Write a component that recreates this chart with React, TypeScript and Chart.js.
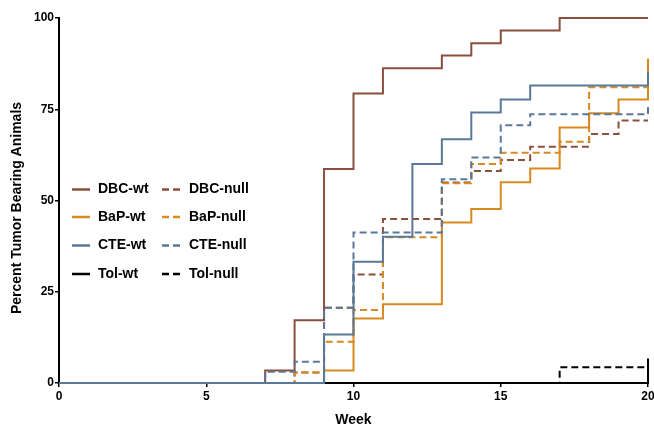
import React, { useEffect, useRef } from 'react';
import { Chart, registerables } from 'chart.js';

Chart.register(...registerables);

// Kaplan-Meier style step data: week of each step, cumulative percent after the step
const weeksDBCwt = [0, 7, 8, 9, 10, 11, 13, 14, 15, 17, 20];
const pctDBCwt = [0, 3.4, 17.2, 58.6, 79.3, 86.2, 89.7, 93.1, 96.6, 100, 100];

const weeksDBCnull = [0, 8, 9, 10, 11, 13, 14, 15, 16, 18, 19, 20];
const pctDBCnull = [0, 2.9, 20.6, 29.7, 44.9, 54.9, 58.1, 61.1, 64.7, 68.2, 71.9, 71.9];

const weeksBaPwt = [0, 9, 10, 11, 13, 14, 15, 16, 17, 18, 19, 20];
const pctBaPwt = [0, 3.4, 17.7, 21.6, 44.0, 47.7, 55.0, 58.8, 70.0, 73.9, 77.7, 88.9];

const weeksBaPnull = [0, 8, 9, 10, 11, 13, 14, 15, 17, 18, 20];
const pctBaPnull = [0, 2.9, 11.3, 20.0, 39.9, 54.7, 60.0, 63.1, 66.1, 81.0, 81.0];

const weeksCTEwt = [0, 9, 10, 11, 12, 13, 14, 15, 16, 20];
const pctCTEwt = [0, 13.3, 33.2, 40.1, 60.0, 66.8, 74.1, 77.7, 81.5, 85.3];

const weeksCTEnull = [0, 7, 8, 9, 10, 13, 14, 15, 16, 20];
const pctCTEnull = [0, 3.1, 5.8, 20.6, 41.2, 55.8, 61.8, 70.6, 73.6, 76.6];

const weeksTolwt = [0, 20];
const pctTolwt = [0, 6.7];

const weeksTolnull = [0, 17, 20];
const pctTolnull = [0, 4.3, 4.3];

const seriesLabels = ['DBC-wt', 'DBC-null', 'BaP-wt', 'BaP-null', 'CTE-wt', 'CTE-null', 'Tol-wt', 'Tol-null'];
const xTicks = [0, 5, 10, 15, 20];
const yTicks = [0, 25, 50, 75, 100];

const BROWN = '#8B4F3D';
const ORANGE = '#D8891F';
const BLUE = '#5A7898';
const BLACK = '#000000';
const FONT = '"Liberation Sans", Arial, Helvetica, sans-serif';

const toPoints = (xs: number[], ys: number[]) => xs.map((x, i) => ({ x, y: ys[i] }));

const legendPlugin = {
  id: 'kmLegend',
  afterDatasetsDraw(chart: any) {
    const ctx = chart.ctx as CanvasRenderingContext2D;
    const rowYs = [189.5, 217, 245.5, 274];
    const cols = [
      { lineStart: 72, lineEnd: 90, text: 98 },
      { lineStart: 162, lineEnd: 180, text: 189 },
    ];
    ctx.save();
    chart.data.datasets.forEach((ds: any, i: number) => {
      const col = cols[i % 2];
      const y = rowYs[Math.floor(i / 2)];
      ctx.strokeStyle = ds.borderColor;
      ctx.lineWidth = 2.5;
      ctx.setLineDash(ds.borderDash && ds.borderDash.length ? [7, 4] : []);
      ctx.beginPath();
      ctx.moveTo(col.lineStart, y);
      ctx.lineTo(col.lineEnd, y);
      ctx.stroke();
      ctx.setLineDash([]);
      ctx.fillStyle = '#000';
      ctx.font = `bold 14px ${FONT}`;
      ctx.textAlign = 'left';
      ctx.textBaseline = 'middle';
      ctx.fillText(ds.label, col.text, y);
    });
    ctx.restore();
  },
};

const yTitlePlugin = {
  id: 'yTitle',
  afterDraw(chart: any) {
    const ctx = chart.ctx as CanvasRenderingContext2D;
    ctx.save();
    ctx.translate(17, 208);
    ctx.rotate(-Math.PI / 2);
    ctx.fillStyle = '#000';
    ctx.font = `bold 14px ${FONT}`;
    ctx.textAlign = 'center';
    ctx.textBaseline = 'middle';
    ctx.fillText('Percent Tumor Bearing Animals', 0, 0);
    ctx.restore();
  },
};

export default function App() {
  const ref = useRef<HTMLCanvasElement>(null);

  useEffect(() => {
    if (!ref.current) return;
    const mk = (i: number, xs: number[], ys: number[], color: string, dashed: boolean, order: number) => ({
      label: seriesLabels[i],
      data: toPoints(xs, ys),
      borderColor: color,
      backgroundColor: color,
      borderWidth: 2,
      borderDash: dashed ? [7, 4] : [],
      stepped: 'before' as const,
      pointRadius: 0,
      fill: false,
      clip: false as any,
      order,
    });
    const chart = new Chart(ref.current, {
      type: 'line',
      data: {
        datasets: [
          mk(0, weeksDBCwt, pctDBCwt, BROWN, false, 4),
          mk(1, weeksDBCnull, pctDBCnull, BROWN, true, 5),
          mk(2, weeksBaPwt, pctBaPwt, ORANGE, false, 2),
          mk(3, weeksBaPnull, pctBaPnull, ORANGE, true, 3),
          mk(4, weeksCTEwt, pctCTEwt, BLUE, false, 0),
          mk(5, weeksCTEnull, pctCTEnull, BLUE, true, 1),
          mk(6, weeksTolwt, pctTolwt, BLACK, false, 6),
          mk(7, weeksTolnull, pctTolnull, BLACK, true, 7),
        ],
      },
      options: {
        responsive: false,
        animation: false,
        devicePixelRatio: 1,
        layout: { padding: { top: 18, right: 6, left: 0, bottom: 0 } },
        plugins: {
          legend: { display: false },
          tooltip: { enabled: false },
        },
        scales: {
          x: {
            type: 'linear',
            min: 0,
            max: 20,
            afterBuildTicks: (s: any) => {
              s.ticks = xTicks.map((v) => ({ value: v }));
            },
            afterFit: (s: any) => {
              s.height = 46;
              s.paddingLeft = 0;
              s.paddingRight = 0;
            },
            ticks: {
              color: '#000',
              font: { family: FONT, size: 12, weight: 'bold' },
              padding: 2,
              maxRotation: 0,
            },
            grid: {
              display: true,
              drawOnChartArea: false,
              drawTicks: true,
              tickLength: 4,
              tickColor: '#000',
              lineWidth: 1.5,
            },
            border: { display: true, color: '#000', width: 2 },
            title: {
              display: true,
              text: 'Week',
              color: '#000',
              font: { family: FONT, size: 14, weight: 'bold' },
              padding: { top: 0, bottom: 0 },
            },
          },
          y: {
            type: 'linear',
            min: 0,
            max: 100,
            afterBuildTicks: (s: any) => {
              s.ticks = yTicks.map((v) => ({ value: v }));
            },
            afterFit: (s: any) => {
              s.width = 59;
              s.paddingTop = 0;
              s.paddingBottom = 0;
            },
            ticks: {
              color: '#000',
              font: { family: FONT, size: 12, weight: 'bold' },
              padding: 1,
            },
            grid: {
              display: true,
              drawOnChartArea: false,
              drawTicks: true,
              tickLength: 4,
              tickColor: '#000',
              lineWidth: 1.5,
            },
            border: { display: true, color: '#000', width: 2 },
          },
        },
      } as any,
      plugins: [legendPlugin, yTitlePlugin],
    });
    return () => chart.destroy();
  }, []);

  return (
    <div style={{ position: 'absolute', left: 0, top: 0, width: 654, height: 429, background: '#fff' }}>
      <canvas ref={ref} width={654} height={429} style={{ display: 'block', width: 654, height: 429 }} />
    </div>
  );
}
